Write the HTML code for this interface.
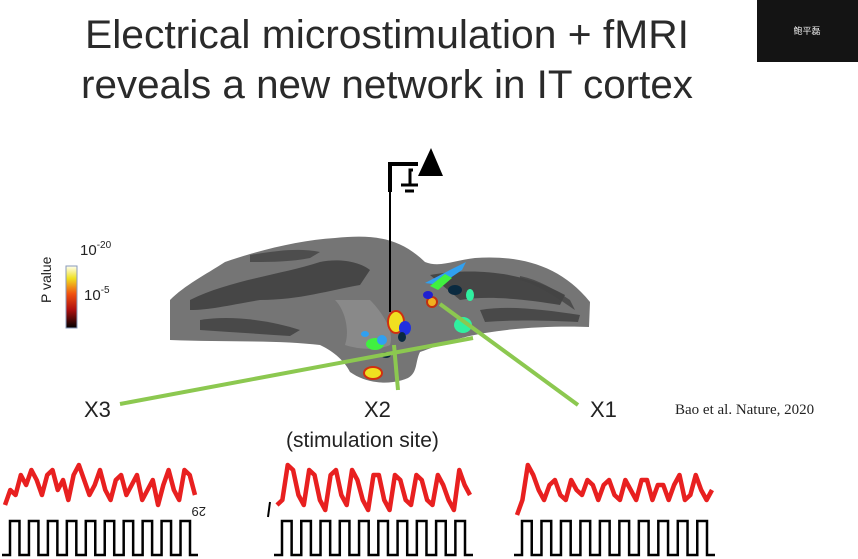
<!DOCTYPE html>
<html><head><meta charset="utf-8"><style>
body{margin:0;background:#fff;width:858px;height:559px;overflow:hidden;font-family:"Liberation Sans","Noto Sans CJK SC",sans-serif}
svg{position:absolute;left:0;top:0}
</style></head><body>
<svg width="858" height="559" viewBox="0 0 858 559">
<defs>
<linearGradient id="cb" x1="0" y1="1" x2="0" y2="0">
<stop offset="0" stop-color="#000"/><stop offset="0.3" stop-color="#b01010"/><stop offset="0.55" stop-color="#f05010"/><stop offset="0.8" stop-color="#f0e020"/><stop offset="1" stop-color="#fffff0"/></linearGradient>
</defs>
<g font-size="40" fill="#2a2a2a" text-anchor="middle" font-family="'Liberation Sans',sans-serif">
<text x="387" y="48" textLength="604" lengthAdjust="spacingAndGlyphs">Electrical microstimulation + fMRI</text>
<text x="387" y="98" textLength="612" lengthAdjust="spacingAndGlyphs">reveals a new network in IT cortex</text>
</g>
<rect x="757" y="0" width="101" height="62" fill="#141414"/>
<text x="807" y="34" font-size="9" fill="#eee" text-anchor="middle" font-family="'Noto Sans CJK SC',sans-serif">鲍平磊</text>

<g>
<rect x="66" y="266" width="11" height="62" fill="url(#cb)" stroke="#8899bb" stroke-width="1"/>
<text x="80" y="255" font-size="15" fill="#222">10<tspan dy="-7" font-size="10">-20</tspan></text>
<text x="84" y="300" font-size="15" fill="#222">10<tspan dy="-7" font-size="10">-5</tspan></text>
<text transform="translate(51,303) rotate(-90)" font-size="14" fill="#222">P value</text>
</g>

<g>
<path d="M170 300 C185 285 205 275 225 262 C260 250 300 240 335 238 C375 234 400 238 425 262 C440 268 455 260 475 258 C520 255 560 265 590 302 L589 327 C560 326 520 327 485 333 C455 338 440 345 420 352 C415 362 418 372 408 378 C395 384 370 386 350 372 C345 362 335 352 320 345 C280 340 220 342 170 340 Z" fill="#757575"/>
<path d="M190 300 C230 280 280 275 320 262 C340 258 360 262 370 270 L360 285 C330 290 300 300 260 300 C230 305 210 310 190 310Z" fill="#3e3e3e" opacity="0.85"/>
<path d="M430 275 C470 268 520 270 565 295 L560 305 C530 300 490 295 460 300 Z" fill="#3e3e3e" opacity="0.85"/>
<path d="M335 300 C345 310 350 330 345 345 C360 350 380 350 390 345 C395 330 380 310 370 300Z" fill="#8f8f8f" opacity="0.8"/>
<path d="M200 320 C230 315 270 320 300 330 L290 336 C260 334 230 332 200 330Z" fill="#424242" opacity="0.85"/>
<path d="M480 310 C510 305 545 310 580 315 L578 322 C540 320 510 320 485 322Z" fill="#424242" opacity="0.85"/>
<path d="M250 255 C280 250 300 248 320 252 L310 258 C290 262 270 262 250 262Z" fill="#444" opacity="0.8"/>
<path d="M520 280 C540 285 560 300 575 310 L570 300 C555 290 540 280 520 276Z" fill="#444" opacity="0.8"/>
</g>
<g>
<ellipse cx="396" cy="322" rx="8" ry="11" fill="#f0e020" stroke="#d03010" stroke-width="2"/>
<ellipse cx="405" cy="328" rx="6" ry="7" fill="#2030e0"/>
<ellipse cx="432" cy="302" rx="5" ry="5" fill="#f0b020" stroke="#c03010" stroke-width="2"/>
<ellipse cx="428" cy="295" rx="5" ry="4" fill="#2020d0"/>
<path d="M425 283 L450 270 L466 262 L462 270 L440 285 Z" fill="#30a0f0"/>
<path d="M430 286 L445 274 L452 278 L438 290Z" fill="#40f040"/>
<ellipse cx="455" cy="290" rx="7" ry="5" fill="#0a2a40"/>
<ellipse cx="470" cy="295" rx="4" ry="6" fill="#30f0a0"/>
<ellipse cx="463" cy="325" rx="9" ry="8" fill="#30f0a0"/>
<ellipse cx="375" cy="344" rx="9" ry="6" fill="#40f040"/>
<ellipse cx="382" cy="340" rx="5" ry="5" fill="#30a0f0"/>
<ellipse cx="365" cy="334" rx="4" ry="3" fill="#30a0f0"/>
<ellipse cx="402" cy="337" rx="4" ry="5" fill="#0a2a40"/>
<ellipse cx="386" cy="355" rx="5" ry="3" fill="#0a2a40"/>
<ellipse cx="373" cy="373" rx="9" ry="6" fill="#f0e020" stroke="#d03010" stroke-width="2"/>
</g>
<g stroke="#000" fill="none">
<line x1="390" y1="192" x2="390" y2="312" stroke-width="2"/>
<polyline points="390,192 390,164 418,164" stroke-width="4"/>
<polyline points="413,170 410,170 410,184" stroke-width="3"/>
<line x1="401" y1="185" x2="418" y2="185" stroke-width="3"/>
<line x1="405" y1="191" x2="414" y2="191" stroke-width="3"/>
<polygon points="418,176 443,176 431,148" fill="#000" stroke="none"/>
</g>
<g stroke="#8cc850" stroke-width="4">
<line x1="120" y1="404" x2="473" y2="338"/>
<line x1="398" y1="390" x2="394" y2="345"/>
<line x1="578" y1="405" x2="440" y2="304"/>
</g>
<g font-size="22" fill="#222">
<text x="84" y="417">X3</text>
<text x="364" y="417">X2</text>
<text x="286" y="447" font-size="21">(stimulation site)</text>
<text x="590" y="417">X1</text>
</g>
<text x="675" y="414" font-size="15" fill="#222" font-family="'Liberation Serif',serif">Bao et al. Nature, 2020</text>
<text x="196" y="515" font-size="13" fill="#222" transform="rotate(180 201 511)">29</text>
<line x1="270" y1="502" x2="268" y2="517" stroke="#000" stroke-width="2"/>
<g id="traces"></g>
</svg>
<script>
const trace1 = [0.2,0.5,0.4,0.8,0.6,0.9,0.7,0.4,0.8,0.9,0.5,0.7,0.3,0.8,1.0,0.7,0.4,0.6,0.9,0.5,0.3,0.7,0.8,0.4,0.6,0.8,0.3,0.5,0.7,0.2,0.6,0.9,0.5,0.3,0.9,0.8,0.4];
const trace2 = [0.2,0.3,1.0,0.9,0.4,0.2,0.9,0.8,0.3,0.1,0.8,0.9,0.4,0.2,0.9,0.7,0.3,0.1,0.8,0.8,0.3,0.1,0.8,0.7,0.3,0.2,0.8,0.7,0.3,0.2,0.8,0.6,0.3,0.1,0.9,0.6,0.4];
const trace3 = [0.0,0.3,1.0,0.8,0.5,0.3,0.6,0.7,0.4,0.3,0.7,0.5,0.4,0.7,0.6,0.3,0.6,0.7,0.4,0.3,0.7,0.5,0.3,0.7,0.7,0.3,0.6,0.6,0.3,0.6,0.8,0.3,0.4,0.8,0.5,0.3,0.5];
const pulses = [10,10,10];
const traceX = [[5,195],[277,470],[517,712]];
const NS='http://www.w3.org/2000/svg';
const g=document.getElementById('traces');
function xs(i,k,n){return traceX[i][0]+(traceX[i][1]-traceX[i][0])*k/(n-1);}
function ys(v){return 515-v*50;}
[trace1,trace2,trace3].forEach((t,i)=>{
  const p=document.createElementNS(NS,'polyline');
  p.setAttribute('points',t.map((v,k)=>xs(i,k,t.length)+','+ys(v)).join(' '));
  p.setAttribute('fill','none');p.setAttribute('stroke','#e82020');p.setAttribute('stroke-width','4.5');p.setAttribute('stroke-linejoin','round');
  
  
  g.appendChild(p);
  const n=pulses[i],x0=traceX[i][0]+5,x1=traceX[i][1]-5,w=(x1-x0)/(n*2-1);
  let pts=[[x0-8,555],[x0,555]];
  for(let k=0;k<n;k++){const a=x0+2*k*w;pts.push([a,555],[a,521],[a+w,521],[a+w,555]);}
  pts.push([x1+8,555]);
  const s=document.createElementNS(NS,'polyline');
  s.setAttribute('points',pts.map(q=>q.join(',')).join(' '));
  s.setAttribute('fill','none');s.setAttribute('stroke','#000');s.setAttribute('stroke-width','2.5');
  
  
  g.appendChild(s);
});
</script>
</body></html>
